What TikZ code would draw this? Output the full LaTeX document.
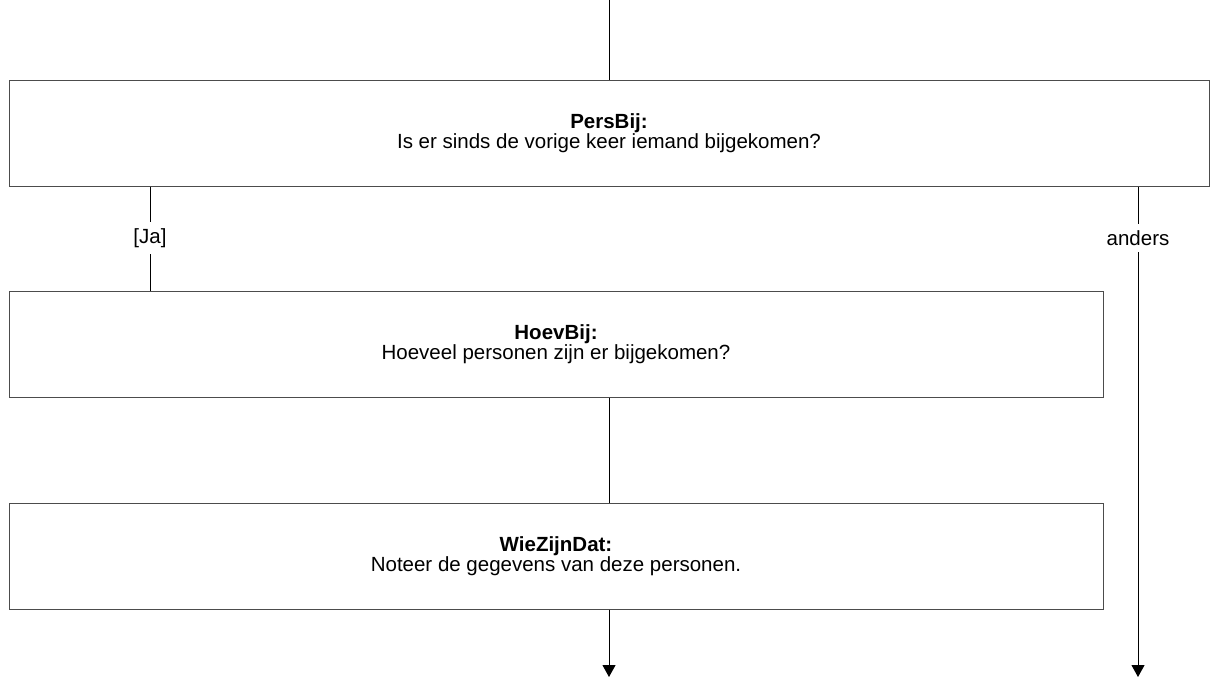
\documentclass[tikz,border=0pt]{standalone}
\usepackage{fontspec}
\setmainfont{Liberation Sans}
\usetikzlibrary{arrows.meta,positioning}

\begin{document}
\begin{tikzpicture}[x=1pt, y=-1pt, line width=1pt, font=\fontsize{20.5}{18.5}\selectfont,
  vraag/.style={rectangle, draw=black!70, align=center, minimum height=106pt, inner sep=0pt},
  tak/.style={inner sep=6pt},
  pijl/.style={-{Triangle[width=13pt,length=12pt]}}]
  \useasboundingbox (0,0) rectangle (1210,680);
  \coordinate (begin) at (609,0);
  \node[vraag, minimum width=1200pt] (persbij) at (609,133) {\textbf{PersBij:}\\Is er sinds de vorige keer iemand bijgekomen?};
  \node[vraag, minimum width=1094pt] (hoevbij) at (556,344) {\textbf{HoevBij:}\\Hoeveel personen zijn er bijgekomen?};
  \node[vraag, minimum width=1094pt] (wiezijndat) at (556,556) {\textbf{WieZijnDat:}\\Noteer de gegevens van deze personen.};
  \node[tak] (ja) at (150,238) {[Ja]};
  \node[tak] (anders) at (1138,238) {anders};
  \coordinate (eind1) at (609,677);
  \coordinate (eind2) at (1138,677);
  \draw (begin) -- (persbij.north -| begin);
  \draw (persbij.south -| ja) -- (ja) -- (hoevbij.north -| ja);
  \draw (hoevbij.south -| begin) -- (wiezijndat.north -| begin);
  \draw (persbij.south -| anders) -- (anders);
  \draw[pijl] (anders) -- (eind2);
  \draw[pijl] (wiezijndat.south -| eind1) -- (eind1);
\end{tikzpicture}
\end{document}
